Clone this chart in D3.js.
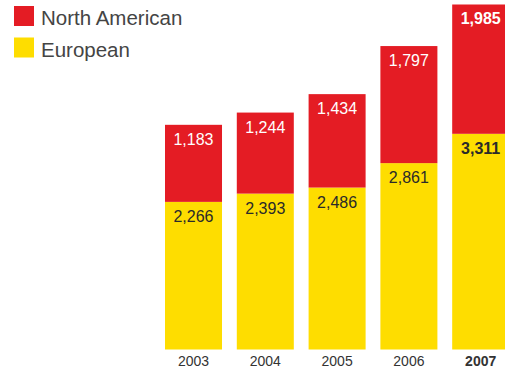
<!DOCTYPE html>
<html>
<head>
<meta charset="utf-8">
<script src="https://cdn.jsdelivr.net/npm/d3@7"></script>
<style>
  html, body { margin: 0; padding: 0; background: #fff; }
  svg { display: block; }
</style>
</head>
<body>
<svg id="chart" width="505" height="374"></svg>
<script>
// Order volumes by region, 2003–2007
const years = ["2003", "2004", "2005", "2006", "2007"];
const european = [2266, 2393, 2486, 2861, 3311];
const northAmerican = [1183, 1244, 1434, 1797, 1985];
const seriesNames = ["North American", "European"];
const highlightYear = "2007";

const RED = "#E41C24";
const YELLOW = "#FEDD00";
const FONT = "'Liberation Sans', Arial, Helvetica, sans-serif";
const fmt = d3.format(",");

const svg = d3.select("#chart");

const rows = years.map((y, i) => ({ year: y, eu: european[i], na: northAmerican[i] }));

const x = d3.scaleBand()
  .domain(years)
  .range([165, 509.2])
  .paddingInner(0.206)
  .paddingOuter(0);

const y = d3.scaleLinear()
  .domain([0, 5365])
  .range([349.5, 0]);

const stack = d3.stack().keys(["eu", "na"]);
const layers = stack(rows);
const colors = { eu: YELLOW, na: RED };

// Stacked bars
svg.append("g")
  .selectAll("g")
  .data(layers)
  .join("g")
  .attr("fill", d => colors[d.key])
  .selectAll("rect")
  .data(d => d)
  .join("rect")
  .attr("x", d => x(d.data.year))
  .attr("width", x.bandwidth())
  .attr("y", d => y(d[1]))
  .attr("height", d => y(d[0]) - y(d[1]));

// Value labels just inside the top of each segment
layers.forEach(layer => {
  svg.append("g")
    .selectAll("text")
    .data(layer)
    .join("text")
    .attr("x", d => x(d.data.year) + x.bandwidth() / 2)
    .attr("y", d => y(d[1]) + 20)
    .attr("text-anchor", "middle")
    .attr("font-family", FONT)
    .attr("font-size", 16)
    .attr("font-weight", d => d.data.year === highlightYear ? "bold" : "normal")
    .attr("fill", layer.key === "na" ? "#ffffff" : "#2a2a2a")
    .text(d => fmt(d.data[layer.key]));
});

// Year labels under the bars
const xAxis = svg.append("g")
  .attr("transform", "translate(0,366)")
  .call(d3.axisBottom(x).tickSize(0).tickPadding(0));
xAxis.select(".domain").remove();
xAxis.selectAll("text")
  .attr("dy", 0)
  .attr("y", 0)
  .attr("font-family", FONT)
  .attr("font-size", 14)
  .attr("fill", "#333")
  .attr("font-weight", d => d === highlightYear ? "bold" : "normal");

// Legend
const legend = svg.append("g")
  .selectAll("g")
  .data(seriesNames)
  .join("g")
  .attr("transform", (d, i) => `translate(14,${6 + i * 31.5})`);
legend.append("rect")
  .attr("width", 20)
  .attr("height", 20)
  .attr("fill", (d, i) => i === 0 ? RED : YELLOW);
legend.append("text")
  .attr("x", 27)
  .attr("y", 19)
  .attr("font-family", FONT)
  .attr("font-size", 20.5)
  .attr("fill", "#444")
  .text(d => d);
</script>
</body>
</html>
